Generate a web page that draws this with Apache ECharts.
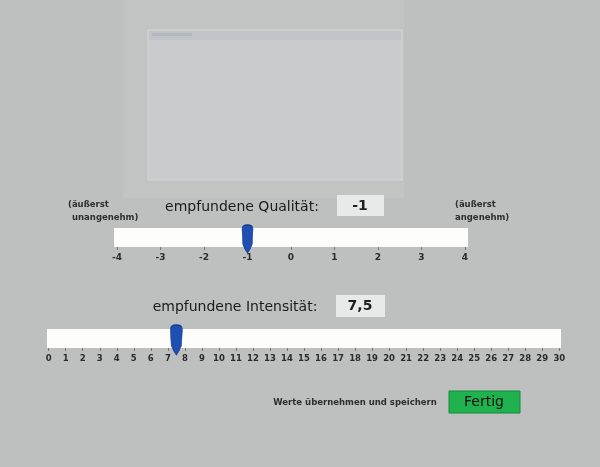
<!DOCTYPE html>
<html>
<head>
<meta charset="utf-8">
<script src="https://cdn.jsdelivr.net/npm/echarts@6/dist/echarts.min.js"></script>
<style>
html,body{margin:0;padding:0;background:#bec0c0;}
#c{width:600px;height:467px;}
</style>
</head>
<body>
<div id="c"></div>
<script>
// ---- data ----
var qualityTicks = [-4, -3, -2, -1, 0, 1, 2, 3, 4];
var qualityValue = [-1];
var intensityTicks = [0,1,2,3,4,5,6,7,8,9,10,11,12,13,14,15,16,17,18,19,20,21,22,23,24,25,26,27,28,29,30];
var intensityValue = [7.5];
var qualityTitle = 'empfundene Qualität:';
var intensityTitle = 'empfundene Intensität:';
var leftLabel = ['(äußerst', 'unangenehm)'];
var rightLabel = ['(äußerst', 'angenehm)'];
var saveText = 'Werte übernehmen und speichern';
var buttonText = 'Fertig';

function fmt(v){ return String(v).replace('.', ','); }

var chart = echarts.init(document.getElementById('c'), null, {renderer:'canvas'});
var FONT = 'DejaVu Sans';
var thumbPath = 'path://M0,4 Q0,0 5.5,0 Q11,0 11,4 L10.2,19 Q8,25 5.5,28 Q3,25 0.8,19 Z';

function axisCommon(ticks, pad, fs){
  var step = ticks[1]-ticks[0];
  return {
    type:'value',
    min: ticks[0]-pad*step,
    max: ticks[ticks.length-1]+pad*step,
    axisLine:{show:false},
    splitLine:{show:false},
    axisTick:{show:true, customValues:ticks, length:3, lineStyle:{color:'#777', width:1}},
    axisLabel:{customValues:ticks, color:'#2b2b2b', fontFamily:FONT, fontSize:fs, fontWeight:'bold', margin:6, formatter:function(v){return String(v);}}
  };
}

var thumbStyle = {color:'#1f4fb3', borderColor:'#16398a', borderWidth:0.8, opacity:1};

var option = {
  backgroundColor:'#bec0c0',
  animation:false,
  grid:[
    {left:114, top:228, width:354, height:19, show:true, backgroundColor:'#fdfdfc', borderWidth:0},
    {left:47, top:329, width:514, height:19, show:true, backgroundColor:'#fdfdfc', borderWidth:0}
  ],
  xAxis:[
    Object.assign({gridIndex:0}, axisCommon(qualityTicks, 0.069, 9)),
    Object.assign({gridIndex:1}, axisCommon(intensityTicks, 0.1, 8.5))
  ],
  yAxis:[
    {gridIndex:0, type:'category', data:['q'], show:false},
    {gridIndex:1, type:'category', data:['i'], show:false}
  ],
  series:[
    {type:'scatter', xAxisIndex:0, yAxisIndex:0, data:qualityValue.map(function(v){return [v,'q'];}),
     symbol:thumbPath, symbolSize:[11,28], symbolOffset:[0,1.5], symbolKeepAspect:false,
     itemStyle:thumbStyle, emphasis:{disabled:true}},
    {type:'scatter', xAxisIndex:1, yAxisIndex:1, data:intensityValue.map(function(v){return [v,'i'];}),
     symbol:thumbPath, symbolSize:[12,30], symbolOffset:[0,1.5], symbolKeepAspect:false,
     itemStyle:thumbStyle, emphasis:{disabled:true}}
  ],
  graphic:[
    // faint outer panel behind the window
    {type:'rect', shape:{x:123, y:0, width:281, height:198}, style:{fill:'#c2c4c4'}, z:-10},
    // window
    {type:'rect', shape:{x:148, y:30, width:254, height:150}, style:{fill:'#cacbcc', stroke:'#d2d4d6', lineWidth:1}, z:-9},
    {type:'rect', shape:{x:149, y:31, width:252, height:9}, style:{fill:'#c2c3c6'}, z:-8},
    {type:'rect', shape:{x:152, y:33, width:40, height:3}, style:{fill:'#b2b6bd'}, z:-7},
    // quality title and value box
    {type:'text', x:242, y:207, style:{text:qualityTitle, font:'14px "'+FONT+'"', fill:'#1a1a1a', align:'center', verticalAlign:'middle'}},
    {type:'rect', shape:{x:337, y:195, width:47, height:21}, style:{fill:'#e8e9e9'}},
    {type:'text', x:360, y:206, style:{text:fmt(qualityValue[0]), font:'bold 14px "'+FONT+'"', fill:'#1e1e1e', align:'center', verticalAlign:'middle'}},
    // side labels
    {type:'text', x:68, y:205, style:{text:leftLabel[0], font:'bold 8.5px "'+FONT+'"', fill:'#2e2e2e', align:'left', verticalAlign:'middle'}},
    {type:'text', x:72, y:218, style:{text:leftLabel[1], font:'bold 8.5px "'+FONT+'"', fill:'#2e2e2e', align:'left', verticalAlign:'middle'}},
    {type:'text', x:455, y:205, style:{text:rightLabel[0], font:'bold 8.5px "'+FONT+'"', fill:'#2e2e2e', align:'left', verticalAlign:'middle'}},
    {type:'text', x:455, y:218, style:{text:rightLabel[1], font:'bold 8.5px "'+FONT+'"', fill:'#2e2e2e', align:'left', verticalAlign:'middle'}},
    // intensity title and value box
    {type:'text', x:235, y:307, style:{text:intensityTitle, font:'14px "'+FONT+'"', fill:'#1a1a1a', align:'center', verticalAlign:'middle'}},
    {type:'rect', shape:{x:336, y:295, width:49, height:22}, style:{fill:'#e8e9e9'}},
    {type:'text', x:360, y:306, style:{text:fmt(intensityValue[0]), font:'bold 14px "'+FONT+'"', fill:'#1e1e1e', align:'center', verticalAlign:'middle'}},
    // save text and button
    {type:'text', x:355, y:403, style:{text:saveText, font:'bold 8.5px "'+FONT+'"', fill:'#2e2e2e', align:'center', verticalAlign:'middle'}},
    {type:'rect', shape:{x:449, y:391, width:71, height:22}, style:{fill:'#1fb24e', stroke:'#158a3a', lineWidth:1}},
    {type:'text', x:484, y:402, style:{text:buttonText, font:'14px "'+FONT+'"', fill:'#111', align:'center', verticalAlign:'middle'}}
  ]
};
chart.setOption(option);
</script>
</body>
</html>
